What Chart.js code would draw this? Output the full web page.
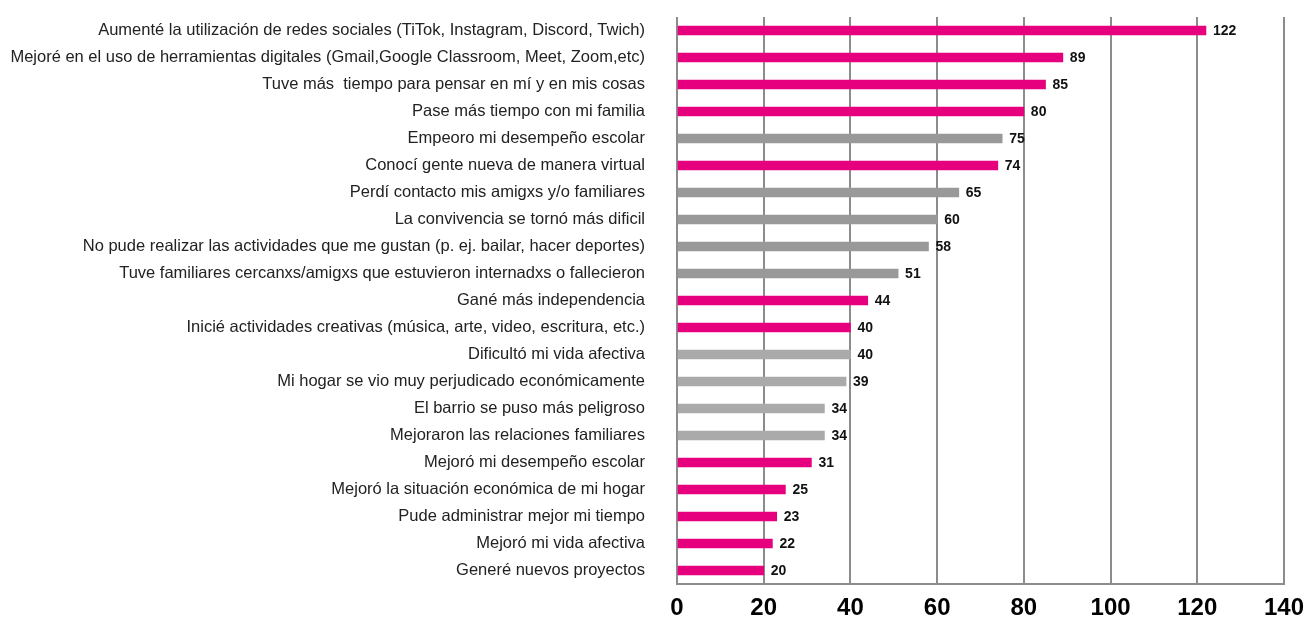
<!DOCTYPE html>
<html>
<head>
<meta charset="utf-8">
<script src="https://cdn.jsdelivr.net/npm/chart.js@4"></script>
<style>
  html, body { margin: 0; padding: 0; background: #fff; }
  #wrap { width: 1314px; height: 621px; }
</style>
</head>
<body>
<div id="wrap"><canvas id="chart"></canvas></div>
<script>
const categorias = [
  'Aumenté la utilización de redes sociales (TiTok, Instagram, Discord, Twich)',
  'Mejoré en el uso de herramientas digitales (Gmail,Google Classroom, Meet, Zoom,etc)',
  'Tuve más  tiempo para pensar en mí y en mis cosas',
  'Pase más tiempo con mi familia',
  'Empeoro mi desempeño escolar',
  'Conocí gente nueva de manera virtual',
  'Perdí contacto mis amigxs y/o familiares',
  'La convivencia se tornó más dificil',
  'No pude realizar las actividades que me gustan (p. ej. bailar, hacer deportes)',
  'Tuve familiares cercanxs/amigxs que estuvieron internadxs o fallecieron',
  'Gané más independencia',
  'Inicié actividades creativas (música, arte, video, escritura, etc.)',
  'Dificultó mi vida afectiva',
  'Mi hogar se vio muy perjudicado económicamente',
  'El barrio se puso más peligroso',
  'Mejoraron las relaciones familiares',
  'Mejoró mi desempeño escolar',
  'Mejoró la situación económica de mi hogar',
  'Pude administrar mejor mi tiempo',
  'Mejoró mi vida afectiva',
  'Generé nuevos proyectos'
];

const respuestas = [122, 89, 85, 80, 75, 74, 65, 60, 58, 51, 44, 40, 40, 39, 34, 34, 31, 25, 23, 22, 20];

// a = rosa, b = gris, c = gris claro
const grupos = ['a', 'a', 'a', 'a', 'b', 'a', 'b', 'b', 'b', 'b', 'a', 'a', 'c', 'c', 'c', 'c', 'a', 'a', 'a', 'a', 'a'];

const ticksX = [0, 20, 40, 60, 80, 100, 120, 140];

const colores = { a: '#e6007e', b: '#999999', c: '#aaaaaa' };

const valueLabels = {
  id: 'valueLabels',
  afterDatasetsDraw(chart) {
    const ctx = chart.ctx;
    const meta = chart.getDatasetMeta(0);
    ctx.save();
    ctx.font = 'bold 14px "Liberation Sans", Arial, sans-serif';
    ctx.fillStyle = '#111';
    ctx.textAlign = 'left';
    ctx.textBaseline = 'middle';
    meta.data.forEach((bar, i) => {
      ctx.fillText(respuestas[i], bar.x + 7, bar.y + 1);
    });
    ctx.restore();
  }
};

new Chart(document.getElementById('chart'), {
  type: 'bar',
  data: {
    labels: categorias,
    datasets: [{
      data: respuestas,
      backgroundColor: grupos.map(g => colores[g]),
      barThickness: 9,
      borderWidth: 0
    }]
  },
  options: {
    indexAxis: 'y',
    responsive: true,
    maintainAspectRatio: false,
    animation: false,
    layout: { padding: { top: 17, right: 29, left: 0, bottom: 0 } },
    plugins: {
      legend: { display: false },
      tooltip: { enabled: false }
    },
    scales: {
      x: {
        min: 0,
        max: 140,
        afterBuildTicks: (scale) => { scale.ticks = ticksX.map(v => ({ value: v })); },
        afterFit: (scale) => { scale.height = 37; },
        grid: { color: '#8c8c8c', lineWidth: 2, drawTicks: false },
        border: { display: true, color: '#8c8c8c', width: 2 },
        ticks: {
          padding: 10,
          color: '#000',
          font: { family: '"Liberation Sans", Arial, sans-serif', size: 24, weight: 'bold' }
        }
      },
      y: {
        afterFit: (scale) => {
          scale.width = 677;
          scale.paddingTop = 0;
          scale.paddingBottom = 0;
        },
        grid: { display: false, drawTicks: false },
        border: { display: false },
        ticks: {
          padding: 32,
          color: '#222',
          autoSkip: false,
          font: { family: '"Liberation Sans", Arial, sans-serif', size: 16.5 }
        }
      }
    }
  },
  plugins: [valueLabels]
});
</script>
</body>
</html>
